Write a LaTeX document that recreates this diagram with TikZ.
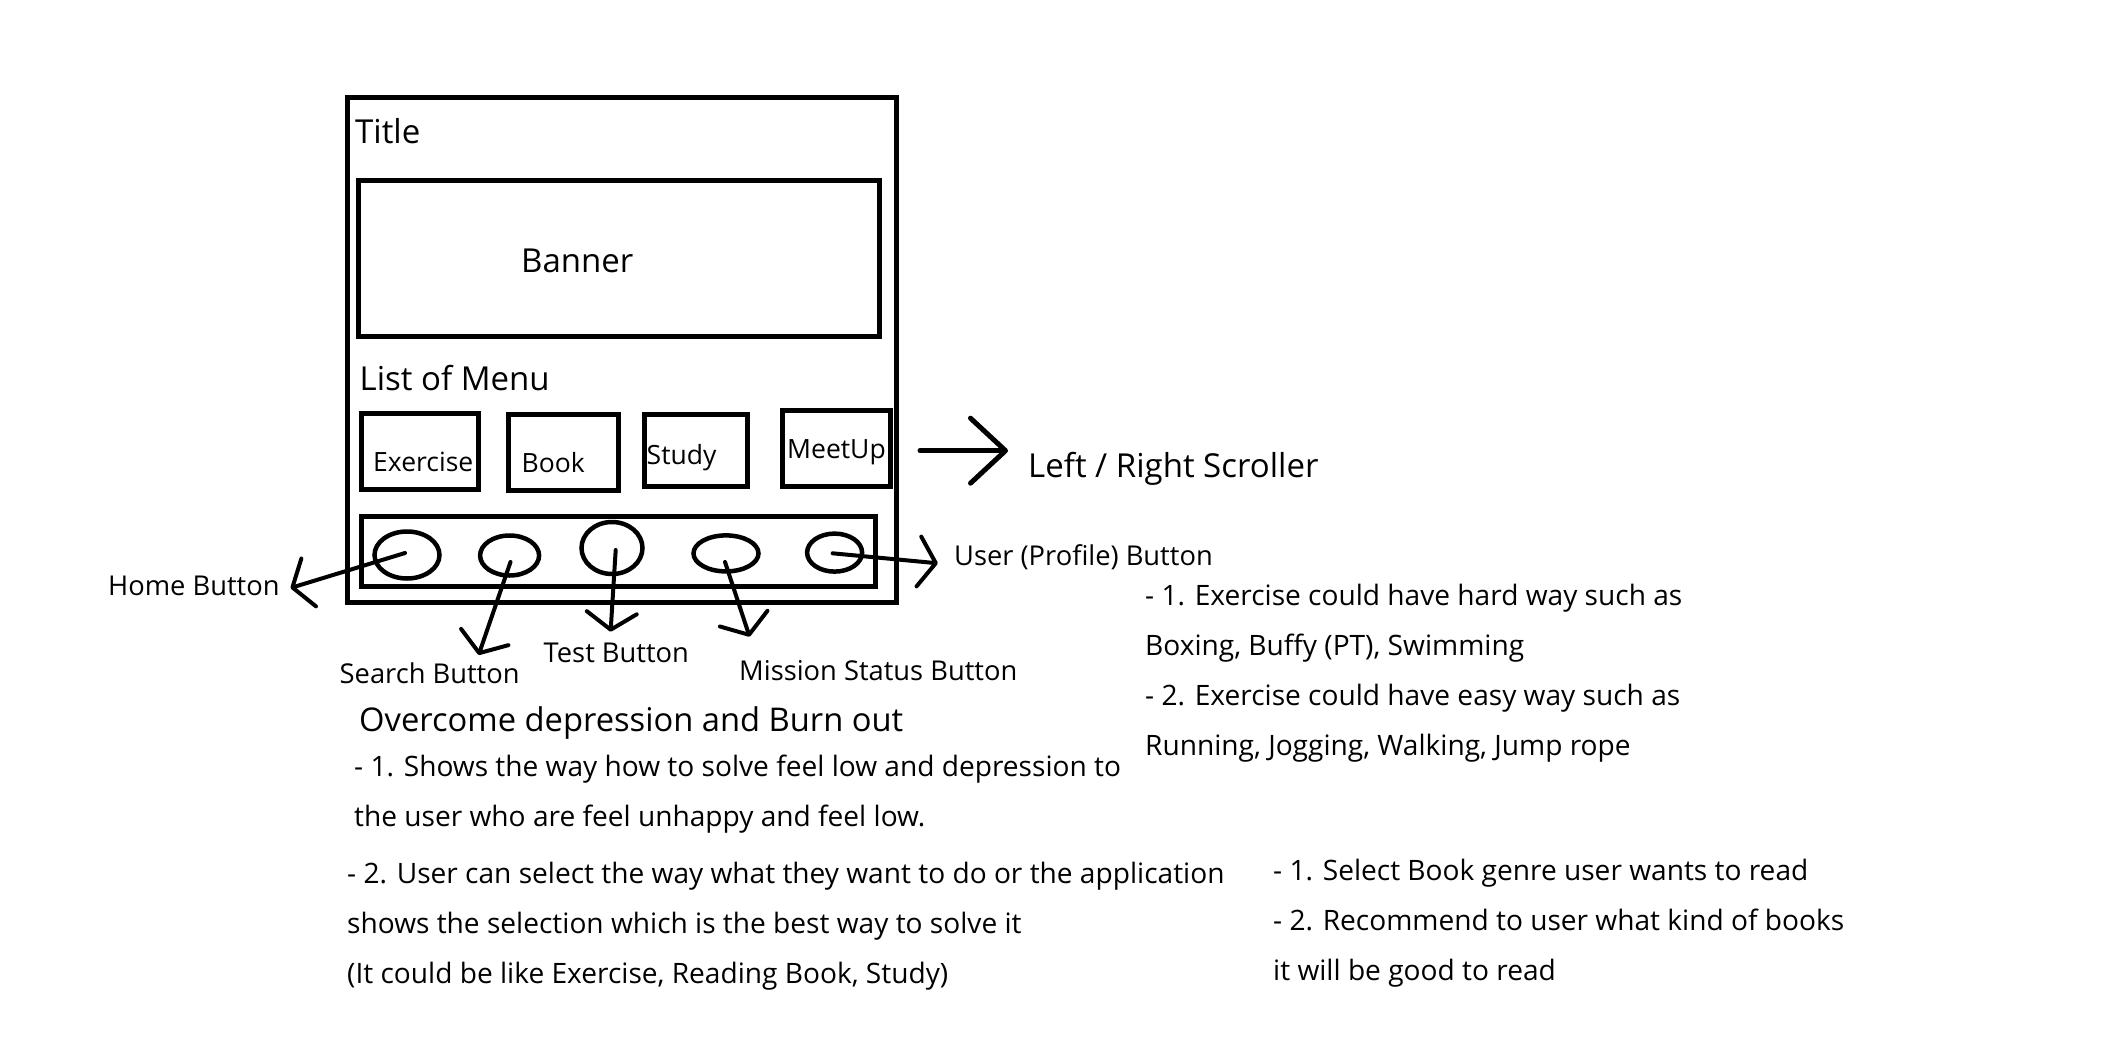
\documentclass[tikz,border=0pt]{standalone}
\usepackage{fontspec}
\setmainfont{Open Sans}
\usetikzlibrary{shapes.geometric,arrows.meta}
\begin{document}
\begin{tikzpicture}[x=1pt,y=-1pt,
  frame/.style={line width=5pt},
  btn/.style={draw, ellipse, line width=4.5pt, inner sep=0pt},
  big/.style={inner sep=0pt, anchor=base west, font=\fontsize{33pt}{40pt}\selectfont},
  menu/.style={inner sep=0pt, anchor=base west, font=\fontsize{26.5pt}{32pt}\selectfont},
  lbl/.style={inner sep=0pt, anchor=base west, font=\fontsize{27.3pt}{32pt}\selectfont},
  body/.style={inner sep=0pt, anchor=base west, font=\fontsize{28.1pt}{34pt}\selectfont},
  ptr/.style={line width=4pt, line cap=round, line join=round, -{Straight Barb[length=17pt,width=50pt,round]}},
  bigptr/.style={line width=5pt, line cap=round, line join=round, -{Straight Barb[length=35pt,width=65pt,round]}},
]
\fill[white] (0,0) rectangle (2104,1060);
\useasboundingbox (0,0) rectangle (2104,1060);

% phone frame and panels
\draw[frame] (347.4,97.9) rectangle (896.8,602.7);
\draw[frame] (358.9,180.9) rectangle (879,336.9);
\draw[frame] (361.8,413) rectangle (478,489.8);
\draw[frame] (508.7,414) rectangle (618.6,490.8);
\draw[frame] (644.5,414) rectangle (747.3,486.3);
\draw[frame] (782.8,410.6) rectangle (890.5,486.3);
\draw[frame] (361.8,516) rectangle (875.7,586.2);

% texts inside the phone
\node[big] (title) at (355,143.7) {Title};
\node[big] (banner) at (521,272) {Banner};
\node[big] (list) at (359.5,390) {List of Menu};
\node[menu] (exercise) at (373,471) {Exercise};
\node[menu] (book) at (521.5,472) {Book};
\node[menu] (study) at (646.5,464) {Study};
\node[menu] (meetup) at (787,458) {MeetUp};

% bottom buttons
\node[btn, minimum width=65pt, minimum height=47pt] (c1) at (407,555) {};
\node[btn, minimum width=59pt, minimum height=40pt] (c2) at (509.6,555.5) {};
\node[btn, minimum width=61pt, minimum height=52pt] (c3) at (612,548) {};
\node[btn, minimum width=65pt, minimum height=36pt] (c4) at (726,553.4) {};
\node[btn, minimum width=55pt, minimum height=38pt] (c5) at (834.6,552.6) {};

% labels
\node[lbl] (home) at (108,595) {Home Button};
\node[lbl] (search) at (339.5,683) {Search Button};
\node[lbl] (test) at (543.5,662) {Test Button};
\node[lbl] (mission) at (739,680) {Mission Status Button};
\node[lbl] (user) at (954,565) {User (Profile) Button};
\node[big] (scroll) at (1028,477) {Left / Right Scroller};

% arrow ends
\coordinate (s1) at (405,553);
\coordinate (t1) at (290.5,588);
\coordinate (s2) at (510.5,562);
\coordinate (t2) at (478.6,655);
\coordinate (s3) at (615.7,550);
\coordinate (t3) at (610.6,631.7);
\coordinate (s4) at (725,562);
\coordinate (t4) at (749.6,636.7);
\coordinate (s5) at (832.6,553.3);
\coordinate (t5) at (937.8,563.3);
\coordinate (s6) at (920,450.7);
\coordinate (t6) at (1008,450.7);

\draw[ptr] (s1) -- (t1);
\draw[ptr] (s2) -- (t2);
\draw[ptr] (s3) -- (t3);
\draw[ptr] (s4) -- (t4);
\draw[ptr] (s5) -- (t5);
\draw[bigptr] (s6) -- (t6);

% notes
\node[body] (ex1) at (1145,605) {- 1. Exercise could have hard way such as};
\node[body] (ex2) at (1145,655) {Boxing, Buffy (PT), Swimming};
\node[body] (ex3) at (1145,705) {- 2. Exercise could have easy way such as};
\node[body] (ex4) at (1145,755) {Running, Jogging, Walking, Jump rope};

\node[big, font=\fontsize{32.7pt}{40pt}\selectfont] (over) at (359,731.7) {Overcome depression and Burn out};
\node[body] (o1) at (354,776.7) {- 1. Shows the way how to solve feel low and depression to};
\node[body] (o2) at (354,826.7) {the user who are feel unhappy and feel low.};
\node[body] (o3) at (347,883.3) {- 2. User can select the way what they want to do or the application};
\node[body] (o4) at (347,933.3) {shows the selection which is the best way to solve it};
\node[body] (o5) at (347,983.3) {(It could be like Exercise, Reading Book, Study)};

\node[body] (b1) at (1273,880) {- 1. Select Book genre user wants to read};
\node[body] (b2) at (1273,930) {- 2. Recommend to user what kind of books};
\node[body] (b3) at (1273,980) {it will be good to read};
\end{tikzpicture}
\end{document}
